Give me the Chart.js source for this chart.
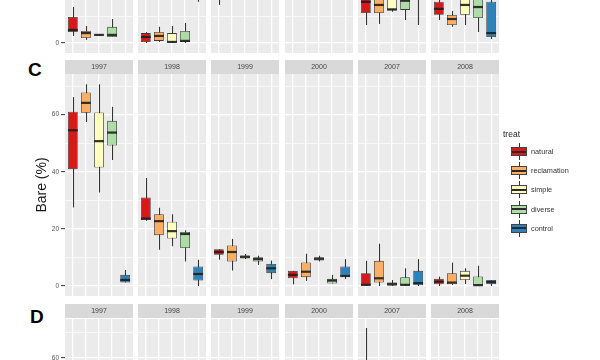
<!DOCTYPE html>
<html>
<head>
<meta charset="utf-8">
<script src="https://cdn.jsdelivr.net/npm/chart.js@4.4.0/dist/chart.umd.min.js"></script>
<style>
  body { margin: 0; width: 600px; height: 360px; overflow: hidden; position: relative; background: #fff;
         font-family: 'Liberation Sans', Arial, sans-serif; }
  canvas { position: absolute; }
  .strip { position: absolute; height: 14px; width: 68px; background: #D9D9D9; color: #444;
           font-size: 7px; line-height: 14px; text-align: center; will-change: transform; }
  .tag { position: absolute; font-weight: bold; font-size: 19px; color: #000; line-height: 1; }
  #legend { position: absolute; left: 503px; top: 129px; color: #222; will-change: transform; }
  #legend .lt { font-size: 8.5px; height: 13px; line-height: 11px; }
  #legend .li { height: 19.2px; display: flex; align-items: center; font-size: 7.3px; color: #333; }
  #legend .li span.tx { color: #333; }
  #legend .key { position: relative; width: 16px; height: 17px; margin-left: 8px; margin-right: 4px; }
  #legend .key::before { content: ''; position: absolute; left: 7.5px; top: 0; width: 1px; height: 17px; background: #333; }
  #legend .key i { position: absolute; left: 0; top: 4px; width: 16px; height: 9px; box-sizing: border-box;
                   border: 0.8px solid #444; }
  #legend .key i::after { content: ''; position: absolute; left: 0; right: 0; top: 2.6px; height: 2px; background: #2a2a2a; }
</style>
</head>
<body>
<div class="tag" style="left:28px;top:60px;">C</div>
<div class="tag" style="left:30px;top:307px;">D</div>
<div id="legend"></div>

<script>
const years = ['1997', '1998', '1999', '2000', '2007', '2008'];
const treats = ['natural', 'reclamation', 'simple', 'diverse', 'control'];
const treatColors = ['#D7191C', '#FDAE61', '#FFFFBF', '#ABDDA4', '#2B83BA'];

// panel B - only the lower strip of it is in frame
const bLow  = [[2.7, 1.2, 2.9, 2.3, null], [0, 0.4, 0, 0, 15.8], [14.6, 20, 22, 19, 25], [18, 22, 24, 20, 26], [6.9, 7.3, 12.0, 8.8, 6.9], [8.8, 6.2, 6.9, 4.2, 1.5]];
const bQ1   = [[4.2, 1.9, 3.0, 2.3, null], [0.4, 0.8, 0, 0.4, 20], [19, 26, 28, 25, 31], [24, 28, 30, 26, 32], [11.5, 11.5, 12.5, 12.7, 20], [10.8, 6.9, 10.8, 9.6, 2.3]];
const bMed  = [[5.0, 3.8, 3.1, 3.1, null], [2.3, 2.7, 0.4, 0.8, 24], [23, 30, 33, 29, 36], [28, 33, 35, 31, 37], [15.8, 14.6, 12.9, 16.2, 28], [13.1, 9.2, 14.6, 13.8, 3.8]];
const bQ3   = [[10.0, 4.6, 3.2, 6.2, null], [3.8, 4.2, 3.8, 4.6, 29], [27, 35, 38, 34, 42], [33, 38, 40, 36, 43], [20, 22, 19, 21, 36], [15.8, 10.8, 18, 19, 15.8]];
const bHigh = [[13.8, 6.5, 3.3, 9.2, null], [4.2, 6.2, 6.5, 7.7, 36], [33, 42, 45, 40, 50], [40, 46, 48, 43, 52], [28, 30, 26, 29, 48], [18, 12.3, 24, 26, 22]];

// panel C - Bare (%)
const cLow  = [[27.5, 57.4, 32.7, 44.1, 1.2], [22.8, 12.7, 13.9, 8.6, 0], [9.2, 5.4, 9.4, 7.4, 2.4], [0.6, 1.8, 8.6, 0.9, 2.5], [0, 0, 0, 0, 0], [0, 0.4, 0.7, 0, 0]];
const cQ1   = [[40.9, 60.6, 41.5, 49.2, 1.2], [23.1, 17.8, 16.6, 13.3, 1.9], [10.9, 8.6, 9.6, 8.6, 4.5], [2.7, 3.1, 8.9, 0.9, 3.3], [0, 1.2, 0.1, 0, 0], [0.6, 0.6, 2.1, 0, 0.7]];
const cMed  = [[54.5, 64.1, 50.7, 53.7, 2.1], [23.6, 22.7, 19.2, 18.2, 4.2], [11.9, 11.9, 10.2, 9.4, 6.2], [3.9, 5.0, 9.5, 1.9, 3.5], [0.4, 2.7, 0.7, 0.4, 1.0], [1.5, 1.2, 3.6, 0.3, 1.4]];
const cQ3   = [[61.0, 67.7, 60.7, 57.8, 3.9], [31.0, 25.1, 22.5, 18.9, 6.8], [12.9, 14.2, 10.7, 10.1, 7.7], [5.3, 8.2, 10.1, 2.5, 6.8], [4.5, 8.8, 1.2, 3.1, 5.3], [2.5, 4.5, 5.3, 3.3, 2.1]];
const cHigh = [[66.1, 70.6, 70.6, 62.7, 5.6], [37.8, 27.4, 25.1, 19.5, 9.2], [12.9, 16.5, 11.2, 10.6, 8.9], [5.3, 11.3, 10.6, 3.9, 9.4], [8.8, 14.8, 2.1, 6.2, 9.4], [3.3, 8.2, 6.2, 7.1, 2.1]];

// panel D - only its top edge is in frame
const dLow  = [[5, 8, 4, 6, 10], [4, 6, 5, 3, 8], [3, 5, 4, 4, 7], [6, 8, 7, 5, 9], [10, 7, 5, 6, 8], [8, 6, 5, 7, 9]];
const dQ1   = [[12, 14, 10, 12, 18], [10, 12, 11, 9, 15], [9, 11, 10, 10, 14], [12, 15, 13, 11, 16], [22, 14, 12, 13, 15], [15, 13, 12, 14, 16]];
const dMed  = [[18, 20, 15, 17, 24], [15, 17, 16, 14, 20], [14, 16, 15, 15, 19], [17, 20, 18, 16, 21], [30, 20, 17, 18, 21], [20, 18, 17, 19, 22]];
const dQ3   = [[25, 27, 22, 24, 31], [21, 23, 22, 20, 27], [20, 22, 21, 21, 25], [23, 27, 24, 22, 28], [42, 27, 23, 25, 28], [27, 24, 23, 26, 29]];
const dHigh = [[35, 38, 31, 33, 42], [30, 32, 31, 29, 37], [28, 31, 30, 30, 34], [32, 37, 34, 31, 38], [72, 38, 32, 35, 40], [37, 34, 32, 36, 40]];

const panels = [
  { top: 0,   height: 53,  strip: null, min: -3.85, max: 16.5, title: '',
    low: bLow, q1: bQ1, med: bMed, q3: bQ3, high: bHigh },
  { top: 74,  height: 222, strip: 60,   min: -3.5,  max: 74.2, title: 'Bare (%)',
    low: cLow, q1: cQ1, med: cMed, q3: cQ3, high: cHigh },
  { top: 319, height: 198, strip: 304,  min: -3.6,  max: 75.6, title: '',
    low: dLow, q1: dQ1, med: dMed, q3: dQ3, high: dHigh }
];

const FONT = "'Liberation Sans', Arial, sans-serif";
const facetLeft = 65, facetWidth = 68, facetStep = 73.2, axisWidth = 35;

// grey panel, whiskers under the boxes, medians over them
const boxPlugin = {
  id: 'boxes',
  beforeDraw(chart) {
    const { ctx, chartArea: a } = chart;
    ctx.save();
    ctx.fillStyle = '#EBEBEB';
    ctx.fillRect(a.left, a.top, a.right - a.left, a.bottom - a.top);
    ctx.restore();
  },
  beforeDatasetsDraw(chart) {
    const st = chart.data.datasets[0].stats;
    const y = chart.scales.y, a = chart.chartArea, ctx = chart.ctx;
    ctx.save();
    ctx.beginPath(); ctx.rect(a.left, a.top, a.right - a.left, a.bottom - a.top); ctx.clip();
    ctx.strokeStyle = '#333'; ctx.lineWidth = 1.1;
    chart.getDatasetMeta(0).data.forEach((el, j) => {
      if (st.low[j] == null) return;
      const x = Math.round(el.x) + 0.5;
      ctx.beginPath();
      ctx.moveTo(x, y.getPixelForValue(st.low[j]));
      ctx.lineTo(x, y.getPixelForValue(st.high[j]));
      ctx.stroke();
    });
    ctx.restore();
  },
  afterDatasetsDraw(chart) {
    const st = chart.data.datasets[0].stats;
    const y = chart.scales.y, a = chart.chartArea, ctx = chart.ctx;
    ctx.save();
    ctx.beginPath(); ctx.rect(a.left, a.top, a.right - a.left, a.bottom - a.top); ctx.clip();
    ctx.strokeStyle = 'rgba(30,30,30,0.9)'; ctx.lineWidth = 2.2;
    chart.getDatasetMeta(0).data.forEach((el, j) => {
      if (st.med[j] == null) return;
      const ym = y.getPixelForValue(st.med[j]);
      ctx.beginPath();
      ctx.moveTo(el.x - el.width / 2, ym);
      ctx.lineTo(el.x + el.width / 2, ym);
      ctx.stroke();
    });
    ctx.restore();
  }
};

function facetChart(p, f) {
  const first = f === 0;
  const left = Math.round(facetLeft + f * facetStep);
  const cv = document.createElement('canvas');
  cv.width = facetWidth + (first ? axisWidth : 0);
  cv.height = p.height;
  cv.style.left = (left - (first ? axisWidth : 0)) + 'px';
  cv.style.top = p.top + 'px';
  document.body.appendChild(cv);

  if (p.strip != null) {
    const s = document.createElement('div');
    s.className = 'strip';
    s.style.left = left + 'px';
    s.style.top = p.strip + 'px';
    s.textContent = years[f];
    document.body.appendChild(s);
  }

  const isMajor = c => c.tick && Math.abs(c.tick.value % 20) < 1e-6;

  new Chart(cv, {
    type: 'bar',
    data: {
      datasets: [{
        data: treats.map((t, j) => ({ x: j + 1, y: p.q1[f][j] == null ? null : [p.q1[f][j], p.q3[f][j]] })),
        backgroundColor: treatColors,
        borderColor: '#3a3a3a',
        borderWidth: 0.8,
        borderSkipped: false,
        categoryPercentage: 1,
        barPercentage: 0.75,
        stats: { low: p.low[f], med: p.med[f], high: p.high[f] }
      }]
    },
    options: {
      responsive: false,
      animation: false,
      layout: { padding: 0 },
      plugins: { legend: { display: false }, tooltip: { enabled: false } },
      scales: {
        x: {
          type: 'linear', min: 0.4, max: 5.6, offset: false,
          ticks: { display: false, stepSize: 1, includeBounds: false },
          grid: { color: '#fff', lineWidth: 1.3, drawTicks: false, offset: false },
          border: { display: false },
          afterFit(s) { s.height = 0; s.paddingLeft = 0; s.paddingRight = 0; }
        },
        y: {
          min: p.min, max: p.max,
          ticks: {
            display: first, stepSize: 10, includeBounds: false, padding: 2,
            color: '#555', font: { family: FONT, size: 6.5 },
            callback: v => (Math.abs(v % 20) < 1e-6 ? v : '')
          },
          grid: {
            color: '#fff', drawTicks: first, tickLength: 4, tickWidth: 1,
            lineWidth: c => (isMajor(c) ? 1.3 : 0.65),
            tickColor: c => (isMajor(c) ? '#333' : 'rgba(0,0,0,0)')
          },
          border: { display: false },
          title: { display: first && p.title !== '', text: p.title, color: '#1a1a1a', font: { family: FONT, size: 14 }, padding: 4 },
          afterFit(s) { s.width = first ? axisWidth : 0; s.paddingTop = 0; s.paddingBottom = 0; }
        }
      }
    },
    plugins: [boxPlugin]
  });
}

panels.forEach(p => years.forEach((yr, f) => facetChart(p, f)));

// legend
document.getElementById('legend').innerHTML =
  '<div class="lt">treat</div>' +
  treats.map((t, i) => `<div class="li"><span class="key"><i style="background:${treatColors[i]}"></i></span><span class="tx">${t}</span></div>`).join('');
</script>
</body>
</html>
